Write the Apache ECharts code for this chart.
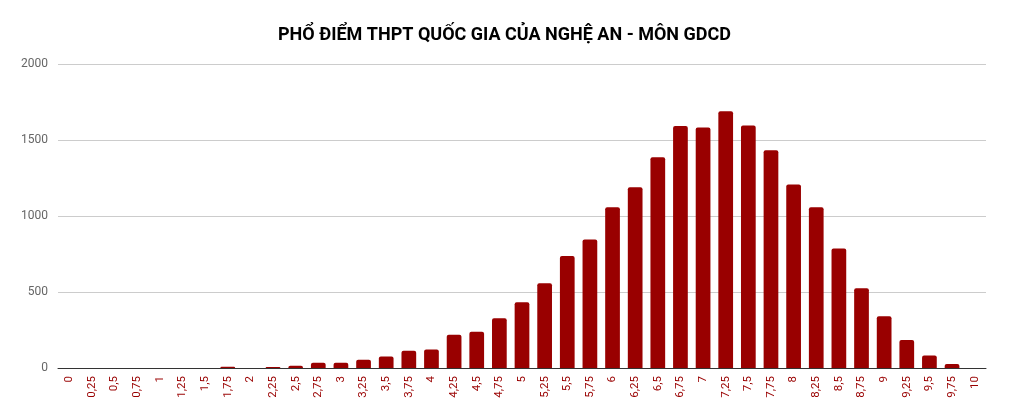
<!DOCTYPE html>
<html><head><meta charset="utf-8">
<script src="https://cdn.jsdelivr.net/npm/echarts@6/dist/echarts.min.js"></script>
<style>html,body{margin:0;padding:0;background:#fff}#c{width:1009px;height:418px}</style>
</head><body><div id="c"></div>
<script>
const categories = ["0","0,25","0,5","0,75","1","1,25","1,5","1,75","2","2,25","2,5","2,75","3","3,25","3,5","3,75","4","4,25","4,5","4,75","5","5,25","5,5","5,75","6","6,25","6,5","6,75","7","7,25","7,5","7,75","8","8,25","8,5","8,75","9","9,25","9,5","9,75","10"];
const counts = [0,0,0,0,0,0,0,8,0,6,15,35,35,55,75,114,121,219,239,327,432,557,737,846,1057,1189,1386,1592,1583,1689,1596,1432,1208,1057,787,524,340,184,83,26,0];
const yTicks = { min: 0, max: 2000, interval: 500 };
const chart = echarts.init(document.getElementById('c'));
chart.setOption({
  animation: false,
  title: { text: 'PHỔ ĐIỂM THPT QUỐC GIA CỦA NGHỆ AN - MÔN GDCD', left: 'center', top: 21,
    textStyle: { fontFamily: 'Roboto', fontWeight: 'bold', fontSize: 18, color: '#000' } },
  grid: { left: 58, right: 23, top: 64, bottom: 50 },
  xAxis: { type: 'category', data: categories,
    axisLine: { lineStyle: { color: '#333', width: 1 } }, axisTick: { show: false },
    axisLabel: { rotate: 90, interval: 0, color: '#990000', fontFamily: 'Roboto', fontSize: 11.5, margin: 8 } },
  yAxis: { type: 'value', min: yTicks.min, max: yTicks.max, interval: yTicks.interval,
    axisLine: { show: false }, axisTick: { show: false },
    axisLabel: { color: '#666', fontFamily: 'Roboto', fontSize: 12, margin: 10, formatter: v => String(v) },
    splitLine: { lineStyle: { color: '#ccc' } } },
  series: [{ type: 'bar', data: counts, barWidth: '65%',
    itemStyle: { color: '#990000', borderRadius: [2,2,0,0] } }]
});
</script></body></html>
